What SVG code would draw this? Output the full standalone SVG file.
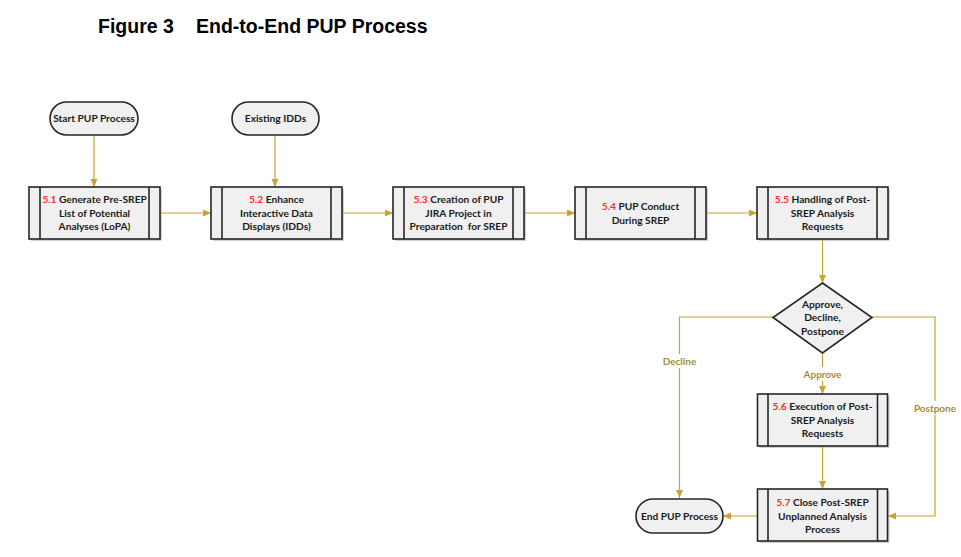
<svg xmlns="http://www.w3.org/2000/svg" width="961" height="557" viewBox="0 0 961 557">
<defs>
<marker id="arr" markerUnits="userSpaceOnUse" markerWidth="9" markerHeight="8" refX="8" refY="3.5" orient="auto">
<path d="M0,0 L8,3.5 L0,7 z" fill="#c8a232"/>
</marker>
<style>
.bx{fill:#f0f0f0;stroke:#262626;stroke-width:1.6}
.sh{fill:#9a9a9a;opacity:0.45}
.il{stroke:#262626;stroke-width:1.6}
.tx{font-family:Lato,"Liberation Sans",sans-serif;font-weight:bold;font-size:10.2px;fill:#1a1a1a;text-anchor:middle}
.rd{fill:#ff2a2a}
.cn{fill:none;stroke:#c8a232;stroke-width:1.2}
.lb{font-family:Lato,"Liberation Sans",sans-serif;font-weight:bold;font-size:10px;fill:#a48c3c;text-anchor:middle}
.ti{font-family:"Liberation Sans",Arial,sans-serif;font-weight:bold;font-size:19.5px;fill:#000}
</style>
</defs>
<rect width="961" height="557" fill="#ffffff"/>
<text class="ti" x="98" y="33">Figure 3</text>
<text class="ti" x="196" y="33">End-to-End PUP Process</text>

<g id="connectors">
<path class="cn" d="M94,135 V187" marker-end="url(#arr)"/>
<path class="cn" d="M275,135 V187" marker-end="url(#arr)"/>
<path class="cn" d="M160,213 H211" marker-end="url(#arr)"/>
<path class="cn" d="M342,213 H393" marker-end="url(#arr)"/>
<path class="cn" d="M524,213 H575" marker-end="url(#arr)"/>
<path class="cn" d="M706,213 H757" marker-end="url(#arr)"/>
<path class="cn" d="M822.5,239 V283" marker-end="url(#arr)"/>
<path class="cn" d="M822.5,353 V394" marker-end="url(#arr)"/>
<path class="cn" d="M773,317 H679.5 V498" marker-end="url(#arr)"/>
<path class="cn" d="M872,317 H935 V516 H888" marker-end="url(#arr)"/>
<path class="cn" d="M822.5,446 V489" marker-end="url(#arr)"/>
<path class="cn" d="M757.5,516 H723" marker-end="url(#arr)"/>
<rect x="799" y="367" width="47" height="14" fill="#ffffff"/>
<text class="lb" x="822.5" y="377.5">Approve</text>
<rect x="661" y="354" width="37" height="14" fill="#ffffff"/>
<text class="lb" x="679.5" y="364.5">Decline</text>
<rect x="912" y="401" width="46" height="14" fill="#ffffff"/>
<text class="lb" x="935" y="411.5">Postpone</text>
</g>

<g id="start">
<rect class="bx" x="50" y="102" width="88" height="33" rx="16.5"/>
<text class="tx" x="94" y="122">Start PUP Process</text>
</g>
<g id="existing">
<rect class="bx" x="232" y="102" width="87" height="33" rx="16.5"/>
<text class="tx" x="275.5" y="122">Existing IDDs</text>
</g>
<g id="end">
<rect class="bx" x="636" y="499" width="87" height="34" rx="17"/>
<text class="tx" x="679.5" y="519.5">End PUP Process</text>
</g>

<g id="n51">
<rect class="sh" x="31" y="189" width="131" height="52"/>
<rect class="bx" x="29" y="187" width="131" height="52"/>
<line class="il" x1="40" y1="187" x2="40" y2="239"/><line class="il" x1="149" y1="187" x2="149" y2="239"/>
<text class="tx" x="94.5" y="203"><tspan class="rd">5.1</tspan> Generate Pre-SREP</text>
<text class="tx" x="94.5" y="216.5">List of Potential</text>
<text class="tx" x="94.5" y="230">Analyses (LoPA)</text>
</g>
<g id="n52">
<rect class="sh" x="213" y="189" width="131" height="52"/>
<rect class="bx" x="211" y="187" width="131" height="52"/>
<line class="il" x1="222" y1="187" x2="222" y2="239"/><line class="il" x1="331" y1="187" x2="331" y2="239"/>
<text class="tx" x="276.5" y="203"><tspan class="rd">5.2</tspan> Enhance</text>
<text class="tx" x="276.5" y="216.5">Interactive Data</text>
<text class="tx" x="276.5" y="230">Displays (IDDs)</text>
</g>
<g id="n53">
<rect class="sh" x="395" y="189" width="131" height="52"/>
<rect class="bx" x="393" y="187" width="131" height="52"/>
<line class="il" x1="404" y1="187" x2="404" y2="239"/><line class="il" x1="513" y1="187" x2="513" y2="239"/>
<text class="tx" x="458.5" y="203"><tspan class="rd">5.3</tspan> Creation of PUP</text>
<text class="tx" x="458.5" y="216.5">JIRA Project in</text>
<text class="tx" x="458.5" y="230" xml:space="preserve">Preparation  for SREP</text>
</g>
<g id="n54">
<rect class="sh" x="577" y="189" width="131" height="52"/>
<rect class="bx" x="575" y="187" width="131" height="52"/>
<line class="il" x1="586" y1="187" x2="586" y2="239"/><line class="il" x1="695" y1="187" x2="695" y2="239"/>
<text class="tx" x="640.5" y="210"><tspan class="rd">5.4</tspan> PUP Conduct</text>
<text class="tx" x="640.5" y="223.5">During SREP</text>
</g>
<g id="n55">
<rect class="sh" x="759" y="189" width="131" height="52"/>
<rect class="bx" x="757" y="187" width="131" height="52"/>
<line class="il" x1="768" y1="187" x2="768" y2="239"/><line class="il" x1="877" y1="187" x2="877" y2="239"/>
<text class="tx" x="822.5" y="203"><tspan class="rd">5.5</tspan> Handling of Post-</text>
<text class="tx" x="822.5" y="216.5">SREP Analysis</text>
<text class="tx" x="822.5" y="230">Requests</text>
</g>
<g id="decision">
<polygon class="bx" points="822.5,283 872,317.5 822.5,353 773,317.5"/>
<text class="tx" x="822.5" y="307.5">Approve,</text>
<text class="tx" x="822.5" y="321">Decline,</text>
<text class="tx" x="822.5" y="334.5">Postpone</text>
</g>
<g id="n56">
<rect class="sh" x="759.5" y="396" width="130" height="52"/>
<rect class="bx" x="757.5" y="394" width="130" height="52"/>
<line class="il" x1="768" y1="394" x2="768" y2="446"/><line class="il" x1="877.5" y1="394" x2="877.5" y2="446"/>
<text class="tx" x="822.5" y="410"><tspan class="rd">5.6</tspan> Execution of Post-</text>
<text class="tx" x="822.5" y="423.5">SREP Analysis</text>
<text class="tx" x="822.5" y="437">Requests</text>
</g>
<g id="n57">
<rect class="sh" x="759.5" y="491" width="130" height="52"/>
<rect class="bx" x="757.5" y="489" width="130" height="52"/>
<line class="il" x1="768" y1="489" x2="768" y2="541"/><line class="il" x1="877.5" y1="489" x2="877.5" y2="541"/>
<text class="tx" x="822.5" y="506"><tspan class="rd">5.7</tspan> Close Post-SREP</text>
<text class="tx" x="822.5" y="519.5">Unplanned Analysis</text>
<text class="tx" x="822.5" y="532.5">Process</text>
</g>
</svg>
